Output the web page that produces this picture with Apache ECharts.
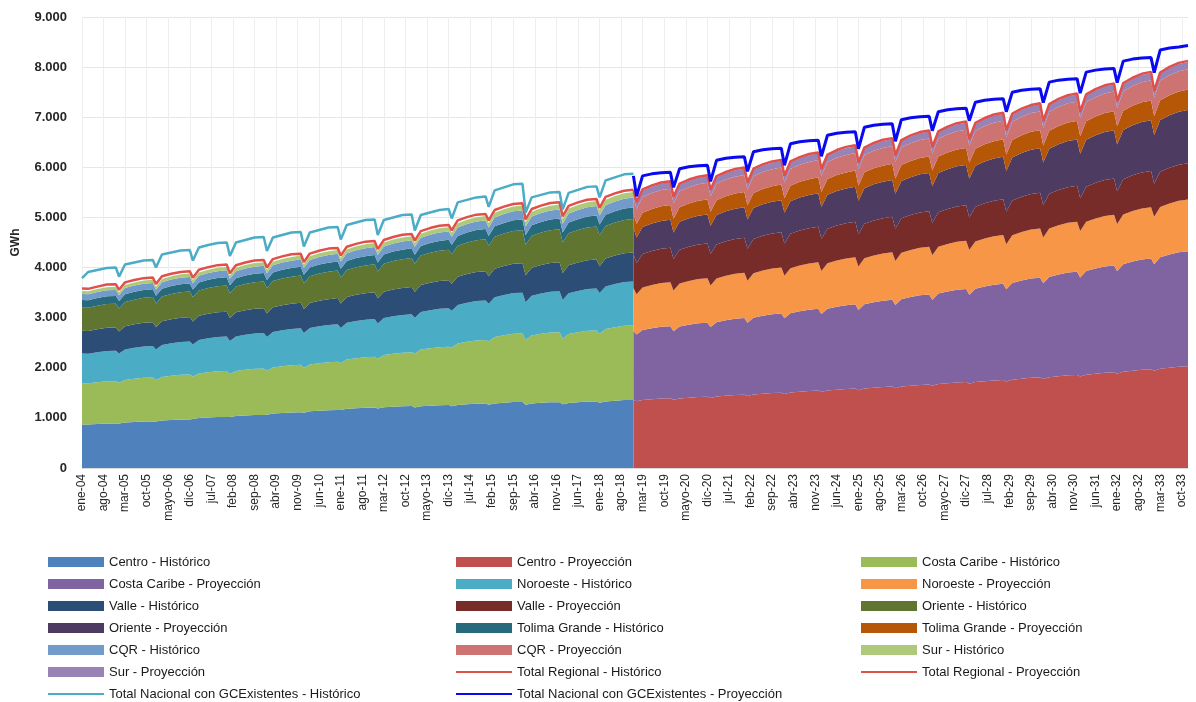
<!DOCTYPE html>
<html><head><meta charset="utf-8">
<script src="https://cdn.jsdelivr.net/npm/echarts@6/dist/echarts.min.js"></script>
<style>html,body{margin:0;padding:0;background:#fff}#c{width:1196px;height:702px}</style>
</head><body><div id="c"></div>
<script>
// ---- tick labels (every 7 months) ----
const tickLabels = ['ene-04','ago-04','mar-05','oct-05','mayo-06','dic-06','jul-07','feb-08','sep-08','abr-09','nov-09','jun-10','ene-11','ago-11','mar-12','oct-12','mayo-13','dic-13','jul-14','feb-15','sep-15','abr-16','nov-16','jun-17','ene-18','ago-18','mar-19','oct-19','mayo-20','dic-20','jul-21','feb-22','sep-22','abr-23','nov-23','jun-24','ene-25','ago-25','mar-26','oct-26','mayo-27','dic-27','jul-28','feb-29','sep-29','abr-30','nov-30','jun-31','ene-32','ago-32','mar-33','oct-33'];
// sampled months of each year: ene, mar, jun, sep, dic
const sampleMonths = [0, 2, 5, 8, 11];
const histYears = [2004, 2018];
const proyYears = [2019, 2033];

// ---- Histórico (GWh), 5 values per year ----
const centroHist = [870,870,880,890,890, 890,910,920,930,930, 930,950,960,970,970, 980,1000,1010,1020,1020, 1020,1040,1050,1060,1060, 1065,1090,1100,1110,1115, 1105,1130,1140,1150,1155, 1155,1180,1190,1200,1205, 1185,1210,1220,1230,1235, 1205,1230,1240,1250,1255, 1230,1255,1270,1280,1285, 1260,1285,1300,1315,1315, 1260,1285,1300,1310,1310, 1270,1295,1310,1325,1325, 1300,1325,1340,1355,1355];
const costaCaribeHist = [820,820,830,840,840, 810,845,860,870,875, 825,865,880,890,895, 845,885,900,910,915, 855,895,910,920,925, 875,915,930,940,945, 895,935,950,960,965, 940,985,1000,1010,1015, 995,1045,1060,1070,1075, 1080,1135,1150,1160,1165, 1175,1230,1250,1265,1270, 1270,1330,1350,1365,1370, 1300,1360,1380,1395,1400, 1315,1380,1400,1415,1420, 1380,1450,1470,1485,1490];
const noroesteHist = [595,590,600,605,610, 585,610,620,625,630, 610,640,650,655,660, 640,670,680,685,690, 660,690,700,705,710, 675,710,720,725,730, 695,730,740,745,750, 700,735,745,750,755, 705,740,750,755,760, 715,750,760,770,770, 735,770,780,790,790, 750,790,800,810,810, 750,790,800,810,815, 770,810,820,830,835, 810,845,860,870,875];
const valleHist = [455,455,460,465,465, 440,465,470,475,475, 450,475,480,485,485, 460,485,490,495,495, 460,485,490,495,495, 470,495,500,505,510, 480,500,510,515,520, 490,510,520,525,530, 500,520,530,535,540, 510,535,545,550,555, 535,560,570,575,580, 545,570,580,585,590, 535,560,570,575,580, 535,560,570,575,580, 535,560,570,575,580];
const orienteHist = [465,465,470,475,475, 460,485,490,495,500, 470,490,500,505,510, 480,500,510,515,520, 490,510,520,525,530, 500,520,530,535,540, 510,530,540,545,550, 515,540,550,555,560, 535,560,570,575,580, 565,590,600,605,610, 590,620,630,635,640, 610,640,650,655,660, 610,640,650,655,660, 610,640,650,655,660, 620,650,660,665,670];
const tolimaHist = [148,148,150,152,152, 146,153,155,157,157, 150,158,160,162,162, 155,163,165,167,167, 160,167,170,172,173, 165,172,175,177,178, 169,177,180,182,183, 174,182,185,187,188, 179,187,190,192,193, 183,192,195,197,198, 188,197,200,202,203, 197,207,210,212,213, 197,207,210,212,213, 202,212,215,217,218, 212,222,225,227,228];
const cqrHist = [118,118,120,121,122, 118,123,125,126,127, 122,128,130,131,132, 127,133,135,136,137, 132,138,140,141,142, 136,143,145,146,147, 141,148,150,152,152, 146,153,155,157,157, 150,158,160,162,162, 155,163,165,167,167, 160,167,170,172,173, 169,177,180,182,183, 169,177,180,182,183, 174,182,185,187,188, 183,192,195,197,198];
const surHist = [59,59,60,61,61, 58,61,62,63,63, 61,64,65,66,66, 64,67,68,69,69, 66,69,70,71,71, 69,72,73,74,74, 71,74,75,76,76, 73,77,78,79,79, 75,79,80,81,81, 78,82,83,84,84, 81,85,86,87,87, 89,94,95,96,96, 89,94,95,96,96, 94,99,100,101,102, 103,108,110,111,112];
const totalRegionalHist = [3580,3575,3620,3660,3665, 3556,3704,3752,3789,3800, 3672,3825,3875,3913,3925, 3798,3957,4008,4048,4059, 3885,4047,4100,4141,4153, 4002,4169,4223,4265,4277, 4108,4279,4335,4378,4391, 4239,4416,4473,4517,4530, 4368,4551,4610,4656,4669, 4537,4726,4788,4835,4850, 4743,4942,5006,5056,5070, 4941,5148,5215,5267,5282, 4960,5168,5235,5287,5302, 5022,5232,5300,5353,5368, 5192,5409,5480,5534,5551];
const totalNacionalHist = [3790,3910,3950,3990,4000, 3820,4060,4100,4140,4150, 4000,4260,4300,4340,4350, 4140,4400,4450,4490,4500, 4230,4500,4550,4600,4610, 4330,4600,4650,4700,4710, 4420,4700,4750,4800,4810, 4560,4850,4900,4950,4960, 4650,4950,5000,5050,5060, 4740,5050,5100,5150,5170, 4980,5300,5350,5400,5420, 5210,5540,5600,5660,5670, 5100,5400,5450,5500,5510, 5160,5490,5550,5610,5620, 5400,5740,5800,5860,5870];

// ---- Proyección (GWh): first value = dic-18, then 5 values per year ----
const centroProy = [1350, 1330,1355,1370,1385,1390, 1360,1385,1400,1415,1420, 1395,1425,1440,1455,1460, 1435,1465,1480,1495,1500, 1475,1505,1520,1535,1545, 1515,1545,1560,1575,1585, 1550,1585,1600,1615,1625, 1590,1625,1640,1655,1665, 1640,1675,1690,1705,1715, 1680,1715,1730,1745,1755, 1725,1760,1780,1800,1805, 1775,1810,1830,1850,1855, 1825,1860,1880,1900,1910, 1880,1920,1940,1960,1970, 1940,1980,2000,2020,2030];
const costaCaribeProy = [1390, 1335,1400,1420,1435,1440, 1370,1440,1460,1475,1480, 1420,1485,1510,1525,1535, 1465,1535,1560,1575,1585, 1515,1585,1610,1625,1635, 1560,1635,1660,1675,1685, 1605,1685,1710,1725,1735, 1665,1745,1770,1790,1795, 1720,1805,1830,1850,1855, 1775,1860,1890,1910,1920, 1840,1930,1960,1980,1990, 1910,2000,2030,2050,2060, 1975,2070,2100,2120,2130, 2050,2145,2180,2200,2210, 2125,2225,2260,2285,2295];
const noroesteProy = [850, 800,845,860,870,875, 810,855,870,880,885, 825,870,885,895,900, 835,885,900,910,915, 845,895,910,920,925, 855,905,920,930,935, 865,915,930,940,945, 875,925,940,950,955, 885,935,950,960,965, 895,945,960,970,975, 900,955,970,980,985, 915,970,985,995,1000, 930,985,1000,1010,1015, 940,995,1010,1020,1025, 950,1005,1020,1030,1035];
const valleProy = [670, 625,670,680,685,690, 630,675,685,690,695, 635,680,690,695,700, 640,685,695,700,705, 645,690,700,705,710, 645,690,700,705,710, 645,690,700,705,710, 645,690,700,705,710, 645,690,700,705,710, 650,695,705,710,715, 650,695,705,710,715, 650,695,705,710,715, 655,700,710,715,720, 655,700,710,715,720, 655,700,710,715,720];
const orienteProy = [540, 510,540,550,555,560, 530,560,570,575,580, 560,590,600,605,610, 585,620,630,635,640, 615,650,660,665,670, 640,680,690,695,700, 670,710,720,725,730, 700,740,750,760,760, 735,780,790,800,800, 770,815,830,840,845, 810,855,870,880,885, 845,895,910,920,925, 885,935,950,960,965, 930,985,1000,1010,1015, 975,1035,1050,1060,1065];
const tolimaProy = [285, 270,285,290,293,295, 275,290,295,298,300, 280,295,300,303,305, 284,300,305,308,310, 288,305,310,313,315, 293,310,315,318,320, 298,315,320,323,325, 302,320,325,328,330, 312,330,335,338,340, 321,340,345,348,350, 330,350,355,359,360, 339,360,365,369,370, 349,369,375,379,381, 363,384,390,394,396, 372,394,400,404,406];
const cqrProy = [315, 298,315,320,323,325, 302,320,325,328,330, 307,325,330,333,335, 312,330,335,338,340, 316,335,340,343,345, 321,340,345,348,350, 326,345,350,354,355, 330,350,355,359,360, 335,355,360,364,365, 339,360,365,369,370, 344,364,370,374,376, 353,374,380,384,386, 358,379,385,389,391, 367,389,395,399,401, 372,394,400,404,406];
const surProy = [130, 121,128,130,131,132, 122,129,131,132,133, 123,130,132,133,134, 124,131,133,134,135, 125,132,134,135,136, 126,133,135,136,137, 126,134,136,137,138, 127,135,137,138,139, 128,136,138,139,140, 129,137,139,140,141, 130,138,140,141,142, 131,139,141,142,143, 132,140,142,143,144, 133,141,143,144,145, 135,143,145,146,147];
const totalRegionalProy = [5550, 5303,5561,5640,5696,5724, 5412,5676,5756,5813,5842, 5554,5825,5907,5966,5995, 5696,5973,6058,6118,6149, 5833,6117,6204,6266,6297, 5966,6256,6345,6408,6440, 6098,6395,6486,6551,6583, 6240,6544,6637,6703,6736, 6405,6718,6813,6881,6915, 6566,6886,6984,7054,7088, 6741,7070,7170,7242,7277, 6925,7263,7366,7439,7476, 7109,7456,7562,7637,7675, 7322,7679,7788,7866,7905, 7526,7893,8005,8085,8125];
const totalNacionalProy = [5830, 5420,5830,5870,5890,5900, 5600,5970,6010,6030,6040, 5720,6140,6180,6200,6210, 5920,6310,6350,6370,6380, 6040,6470,6510,6530,6540, 6220,6640,6680,6700,6710, 6370,6800,6840,6860,6870, 6520,6950,6990,7010,7020, 6730,7110,7150,7170,7180, 6930,7300,7340,7360,7370, 7110,7500,7540,7560,7570, 7290,7700,7740,7760,7770, 7480,7900,7940,7960,7970, 7690,8120,8160,8180,8190, 7890,8340,8380,8400,8430];

// ---- time stamps of the sampled months ----
function stamps(y0, y1) {
  const out = [];
  for (let y = y0; y <= y1; y++) for (const m of sampleMonths) out.push(Date.UTC(y, m, 1));
  return out;
}
const histT = stamps(histYears[0], histYears[1]);
const proyT = [Date.UTC(2018, 11, 1)].concat(stamps(proyYears[0], proyYears[1]));
// monthly categories (ene-04 .. dic-33) for the labelled axis
const monthCats = [];
for (let y = 2004; y <= 2033; y++) for (let m = 0; m < 12; m++) monthCats.push(y + '-' + (m + 1));

const FONT = 'Liberation Sans, Arial, sans-serif';
const TXT = '#262626';

function pairs(ts, ys) { return ys.map((v, i) => [ts[i], v]); }
function area(name, ts, ys, stack, color) {
  return { name, type: 'line', xAxisIndex: 1, stack, data: pairs(ts, ys), showSymbol: false, symbol: 'none',
    lineStyle: { width: 0, color }, itemStyle: { color }, areaStyle: { color, opacity: 1 }, emphasis: { disabled: true } };
}
function line(name, ts, ys, color, width) {
  return { name, type: 'line', xAxisIndex: 1, data: pairs(ts, ys), showSymbol: false, symbol: 'none',
    lineStyle: { width, color }, itemStyle: { color }, emphasis: { disabled: true } };
}

const series = [
  area('Centro - Histórico', histT, centroHist, 'h', '#4F81BD'),
  area('Costa Caribe - Histórico', histT, costaCaribeHist, 'h', '#9BBB59'),
  area('Noroeste - Histórico', histT, noroesteHist, 'h', '#4BACC6'),
  area('Valle - Histórico', histT, valleHist, 'h', '#2C4D75'),
  area('Oriente - Histórico', histT, orienteHist, 'h', '#5F7530'),
  area('Tolima Grande - Histórico', histT, tolimaHist, 'h', '#276A7C'),
  area('CQR - Histórico', histT, cqrHist, 'h', '#729ACA'),
  area('Sur - Histórico', histT, surHist, 'h', '#AFC97A'),
  area('Centro - Proyección', proyT, centroProy, 'p', '#C0504D'),
  area('Costa Caribe - Proyección', proyT, costaCaribeProy, 'p', '#8064A2'),
  area('Noroeste - Proyección', proyT, noroesteProy, 'p', '#F79646'),
  area('Valle - Proyección', proyT, valleProy, 'p', '#772C2A'),
  area('Oriente - Proyección', proyT, orienteProy, 'p', '#4D3B62'),
  area('Tolima Grande - Proyección', proyT, tolimaProy, 'p', '#B65708'),
  area('CQR - Proyección', proyT, cqrProy, 'p', '#CD7371'),
  area('Sur - Proyección', proyT, surProy, 'p', '#9983B5'),
  line('Total Regional - Histórico', histT, totalRegionalHist, '#E0504A', 2.5),
  line('Total Regional - Proyección', proyT, totalRegionalProy, '#E0504A', 2.5),
  line('Total Nacional con GCExistentes - Histórico', histT, totalNacionalHist, '#4BACC6', 2.5),
  line('Total Nacional con GCExistentes - Proyección', proyT, totalNacionalProy, '#0A0AF0', 3)
];

const lineNames = ['Total Regional - Histórico','Total Regional - Proyección','Total Nacional con GCExistentes - Histórico','Total Nacional con GCExistentes - Proyección'];
function legendItems(names) {
  return names.map(n => lineNames.includes(n) ? { name: n, itemStyle: { opacity: 0 } } : { name: n, icon: 'rect' });
}
const col1 = ['Centro - Histórico','Costa Caribe - Proyección','Valle - Histórico','Oriente - Proyección','CQR - Histórico','Sur - Proyección','Total Nacional con GCExistentes - Histórico'];
const col2 = ['Centro - Proyección','Noroeste - Histórico','Valle - Proyección','Tolima Grande - Histórico','CQR - Proyección','Total Regional - Histórico','Total Nacional con GCExistentes - Proyección'];
const col3 = ['Costa Caribe - Histórico','Noroeste - Proyección','Oriente - Histórico','Tolima Grande - Proyección','Sur - Histórico','Total Regional - Proyección'];
function legend(left, names) {
  return { orient: 'vertical', left, top: 555, padding: 0, itemWidth: 56, itemHeight: 10, itemGap: 8, selectedMode: false,
    textStyle: { fontFamily: FONT, fontSize: 13, color: '#1a1a1a', lineHeight: 14 }, data: legendItems(names) };
}

const chart = echarts.init(document.getElementById('c'), null, { renderer: 'canvas' });
chart.setOption({
  animation: false,
  backgroundColor: '#fff',
  grid: { left: 82, right: 8, top: 17, bottom: 234, containLabel: false },
  legend: [legend(47, col1), legend(455, col2), legend(860, col3)],
  xAxis: [{
    type: 'category', data: monthCats, boundaryGap: false,
    axisLine: { show: true, lineStyle: { color: '#d9d9d9' } },
    axisTick: { show: false },
    splitLine: { show: true, interval: 6, lineStyle: { color: '#eeeeee', width: 1 } },
    axisLabel: { interval: 6, rotate: 90, margin: 6, fontFamily: FONT, fontSize: 12, color: TXT,
      formatter: (v, i) => tickLabels[i / 7] || '' }
  }, {
    type: 'time', show: false, min: Date.UTC(2004, 0, 1), max: Date.UTC(2033, 11, 1),
    splitLine: { show: false }
  }],
  yAxis: {
    type: 'value', min: 0, max: 9000, interval: 1000,
    name: 'GWh', nameLocation: 'middle', nameRotate: 90, nameGap: 60,
    nameTextStyle: { fontFamily: FONT, fontSize: 12, fontWeight: 'bold', color: TXT },
    axisLine: { show: false }, axisTick: { show: false },
    splitLine: { lineStyle: { color: '#e6e6e6' } },
    axisLabel: { margin: 15, fontFamily: FONT, fontSize: 13, fontWeight: 'bold', color: TXT,
      formatter: v => v === 0 ? '0' : String(v).replace(/\B(?=(\d{3})+(?!\d))/g, '.') }
  },
  series
});
</script></body></html>
